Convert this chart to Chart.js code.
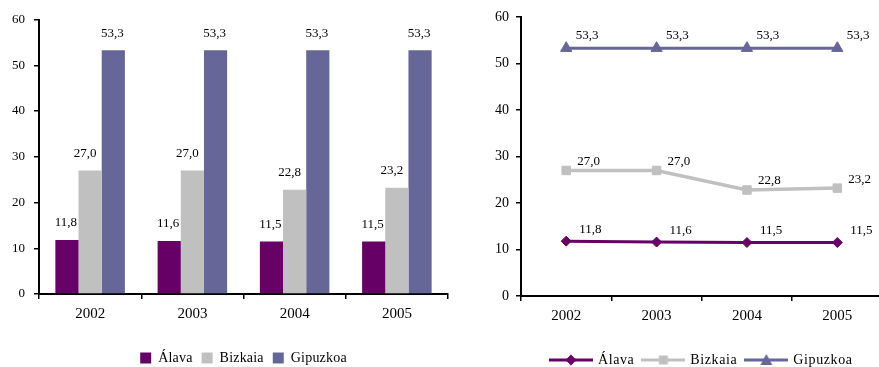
<!DOCTYPE html>
<html>
<head>
<meta charset="utf-8">
<script src="https://cdn.jsdelivr.net/npm/chart.js"></script>
<style>
  html, body { margin: 0; padding: 0; background: #fff; }
  body { width: 879px; height: 367px; overflow: hidden; position: relative; }
  canvas { position: absolute; top: 0; }
  #bar { left: 0; }
  #line { left: 450px; }
</style>
</head>
<body>
<canvas id="bar" width="452" height="375"></canvas>
<canvas id="line" width="440" height="377"></canvas>
<script>
// ---- data ----
const years = ['2002', '2003', '2004', '2005'];
const seriesNames = ['Álava', 'Bizkaia', 'Gipuzkoa'];
const alava = [11.8, 11.6, 11.5, 11.5];
const bizkaia = [27.0, 27.0, 22.8, 23.2];
const gipuzkoa = [53.3, 53.3, 53.3, 53.3];
const yMin = 0, yMax = 60, yStep = 10;

// ---- styles ----
const C_ALAVA = '#660066';
const C_BIZKAIA = '#C0C0C0';
const C_GIPUZKOA = '#666699';
const FONT = '"Liberation Serif", "Times New Roman", serif';
Chart.defaults.font.family = FONT;
Chart.defaults.color = '#000';

const fmt = v => v.toFixed(1).replace('.', ',');

const valueLabels = {
  id: 'valueLabels',
  afterDatasetsDraw(chart, args, opts) {
    const ctx = chart.ctx;
    ctx.save();
    ctx.letterSpacing = '0px';
    ctx.font = '13px ' + FONT;
    ctx.fillStyle = '#000';
    ctx.textBaseline = 'middle';
    ctx.textAlign = opts.align;
    chart.data.datasets.forEach((ds, i) => {
      const meta = chart.getDatasetMeta(i);
      meta.data.forEach((el, j) => {
        ctx.fillText(fmt(ds.data[j]), el.x + opts.dx[i], el.y + opts.dy[i]);
      });
    });
    ctx.restore();
  }
};

const spacing = {
  id: 'spacing',
  _wrap(chart, obj, name, sp) {
    if (!obj || obj['_w_' + name]) return;
    const orig = obj[name];
    obj[name] = function (...a) {
      const c = chart.ctx; const p = c.letterSpacing;
      c.letterSpacing = sp;
      try { return orig.apply(this, a); } finally { c.letterSpacing = p; }
    };
    obj['_w_' + name] = true;
  },
  _all(chart, opts) {
    this._wrap(chart, chart.legend, 'fit', opts.legend);
    this._wrap(chart, chart.legend, 'draw', opts.legend);
  },
  beforeLayout(chart, args, opts) { this._all(chart, opts); },
  beforeDraw(chart, args, opts) { this._all(chart, opts); }
};

function axisOpts(isY, pad, fitSize, fontSize) {
  const o = {
    grid: { drawOnChartArea: false, drawTicks: true, tickLength: 5, color: '#000', lineWidth: 1.5, offset: !isY },
    border: { color: '#000', width: 2 },
    ticks: { color: '#000', font: { size: fontSize, family: FONT }, padding: pad }
  };
  if (isY) {
    o.min = yMin; o.max = yMax; o.ticks.stepSize = yStep;
    o.afterFit = s => { s.width = fitSize; };
  } else {
    o.offset = true;
    o.afterFit = s => { s.height = fitSize; };
  }
  return o;
}

// ---- bar chart ----
new Chart(document.getElementById('bar'), {
  type: 'bar',
  data: {
    labels: years,
    datasets: [
      { label: seriesNames[0], data: alava, backgroundColor: C_ALAVA, borderWidth: 0 },
      { label: seriesNames[1], data: bizkaia, backgroundColor: C_BIZKAIA, borderWidth: 0 },
      { label: seriesNames[2], data: gipuzkoa, backgroundColor: C_GIPUZKOA, borderWidth: 0 }
    ]
  },
  options: {
    responsive: false,
    animation: false,
    events: [],
    layout: { padding: { top: 19.5, right: 4, left: 0, bottom: 0 } },
    datasets: { bar: { categoryPercentage: 0.68, barPercentage: 1 } },
    scales: { x: axisOpts(false, 6, 48, 15), y: axisOpts(true, 9, 39, 13) },
    plugins: {
      legend: {
        position: 'bottom', fullSize: false,
        labels: { boxWidth: 11, boxHeight: 11, padding: 9, color: '#000', font: { size: 14, family: FONT } }
      },
      tooltip: { enabled: false },
      valueLabels: { align: 'center', dx: [-1, -5, -1], dy: [-17, -17, -17] },
      spacing: { legend: '0.2px' }
    }
  },
  plugins: [valueLabels, spacing]
});

// ---- line chart ----
function legendIcon(color, shape) {
  const c = document.createElement('canvas');
  c.width = 44; c.height = 14;
  const g = c.getContext('2d');
  g.strokeStyle = color; g.lineWidth = 3;
  g.beginPath(); g.moveTo(0, 7); g.lineTo(44, 7); g.stroke();
  g.fillStyle = color;
  g.beginPath();
  if (shape === 'diamond') { g.moveTo(22, 1.5); g.lineTo(27.5, 7); g.lineTo(22, 12.5); g.lineTo(16.5, 7); }
  else if (shape === 'square') { g.rect(17.5, 2.5, 9, 9); }
  else { g.moveTo(22, 1); g.lineTo(28, 12); g.lineTo(16, 12); }
  g.closePath(); g.fill();
  return c;
}
const icons = [legendIcon(C_ALAVA, 'diamond'), legendIcon(C_BIZKAIA, 'square'), legendIcon(C_GIPUZKOA, 'triangle')];

new Chart(document.getElementById('line'), {
  type: 'line',
  data: {
    labels: years,
    datasets: [
      { label: seriesNames[0], data: alava, borderColor: C_ALAVA, backgroundColor: C_ALAVA, borderWidth: 3,
        pointStyle: 'rectRot', pointRadius: 5, pointBorderWidth: 1, tension: 0 },
      { label: seriesNames[1], data: bizkaia, borderColor: C_BIZKAIA, backgroundColor: C_BIZKAIA, borderWidth: 3.5,
        pointStyle: 'rect', pointRadius: 6, pointBorderWidth: 1, tension: 0 },
      { label: seriesNames[2], data: gipuzkoa, borderColor: C_GIPUZKOA, backgroundColor: C_GIPUZKOA, borderWidth: 3,
        pointStyle: 'triangle', pointRadius: 6.5, pointBorderWidth: 1, tension: 0 }
    ]
  },
  options: {
    responsive: false,
    animation: false,
    events: [],
    layout: { padding: { top: 17, right: 3, left: 0, bottom: 0 } },
    scales: { x: axisOpts(false, 6, 48, 15), y: axisOpts(true, 7, 71, 14) },
    plugins: {
      legend: {
        position: 'bottom', fullSize: false,
        labels: {
          usePointStyle: true, pointStyleWidth: 40, padding: 9, color: '#000',
          font: { size: 14, family: FONT },
          generateLabels(chart) {
            return Chart.defaults.plugins.legend.labels.generateLabels(chart)
              .map((it, i) => Object.assign(it, { pointStyle: icons[i] }));
          }
        }
      },
      tooltip: { enabled: false },
      valueLabels: { align: 'left', dx: [13, 11, 9.5], dy: [-11.5, -9, -13] },
      spacing: { legend: '0.6px' }
    }
  },
  plugins: [valueLabels, spacing]
});
</script>
</body>
</html>
